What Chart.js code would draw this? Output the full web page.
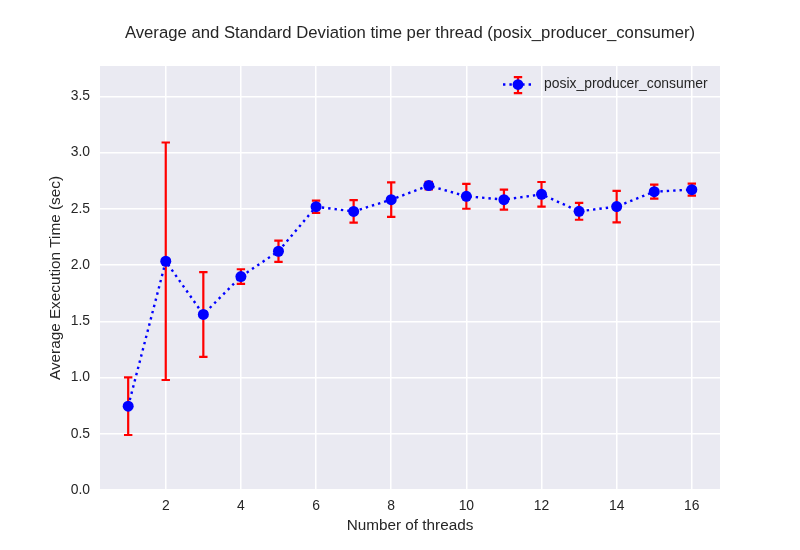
<!DOCTYPE html>
<html>
<head>
<meta charset="utf-8">
<script src="https://cdn.jsdelivr.net/npm/chart.js@4.4.0/dist/chart.umd.min.js"></script>
<style>
  body { margin: 0; background: #ffffff; }
  #wrap { width: 800px; height: 550px; }
</style>
</head>
<body>
<div id="wrap"><canvas id="myChart" width="800" height="550"></canvas></div>
<script>
// data
const threads = [1, 2, 3, 4, 5, 6, 7, 8, 9, 10, 11, 12, 13, 14, 15, 16];
const avgTime = [0.745, 2.034, 1.561, 1.898, 2.123, 2.519, 2.477, 2.582, 2.707, 2.612, 2.582, 2.629, 2.478, 2.520, 2.653, 2.671];
const stdTime = [0.256, 1.056, 0.377, 0.065, 0.095, 0.055, 0.100, 0.154, 0.033, 0.111, 0.089, 0.110, 0.075, 0.140, 0.062, 0.053];
const xTicks = [2, 4, 6, 8, 10, 12, 14, 16];
const yTicks = [0, 0.5, 1.0, 1.5, 2.0, 2.5, 3.0, 3.5];
const seriesName = "posix_producer_consumer";

const textColor = "#262626";
const fontFamily = "'Liberation Sans', Arial, sans-serif";
const lineDash = [2.4, 4.0];

// background of the plot area (seaborn darkgrid)
const plotBackground = {
    id: "plotBackground",
    beforeDraw(chart) {
        const { ctx, chartArea } = chart;
        ctx.save();
        ctx.fillStyle = "#EAEAF2";
        ctx.fillRect(chartArea.left, chartArea.top, chartArea.right - chartArea.left, chartArea.bottom - chartArea.top);
        ctx.restore();
    }
};

function drawErrorBar(ctx, x, yTop, yBot, cap) {
    ctx.beginPath();
    ctx.moveTo(x, yTop);
    ctx.lineTo(x, yBot);
    ctx.moveTo(x - cap, yTop);
    ctx.lineTo(x + cap, yTop);
    ctx.moveTo(x - cap, yBot);
    ctx.lineTo(x + cap, yBot);
    ctx.stroke();
}

// red error bars, drawn under the markers
const errorBars = {
    id: "errorBars",
    beforeDatasetsDraw(chart) {
        const { ctx, scales } = chart;
        ctx.save();
        ctx.strokeStyle = "#ff0000";
        ctx.lineWidth = 2.2;
        threads.forEach((t, i) => {
            const x = scales.x.getPixelForValue(t);
            const yTop = scales.y.getPixelForValue(avgTime[i] + stdTime[i]);
            const yBot = scales.y.getPixelForValue(avgTime[i] - stdTime[i]);
            drawErrorBar(ctx, x, yTop, yBot, 4.2);
        });
        ctx.restore();
    }
};

// legend in the upper right corner of the plot, matplotlib style
const cornerLegend = {
    id: "cornerLegend",
    afterDraw(chart) {
        const { ctx, chartArea } = chart;
        const cx = chartArea.right - 202;
        const cy = chartArea.top + 18.5;
        ctx.save();
        ctx.strokeStyle = "#0000ff";
        ctx.lineWidth = 2.4;
        ctx.setLineDash(lineDash);
        ctx.beginPath();
        ctx.moveTo(cx - 15, cy);
        ctx.lineTo(cx + 15, cy);
        ctx.stroke();
        ctx.setLineDash([]);
        ctx.strokeStyle = "#ff0000";
        ctx.lineWidth = 2.2;
        drawErrorBar(ctx, cx, cy - 7.5, cy + 8.5, 4.2);
        ctx.fillStyle = "#0000ff";
        ctx.beginPath();
        ctx.arc(cx, cy, 5.4, 0, Math.PI * 2);
        ctx.fill();
        ctx.fillStyle = textColor;
        ctx.font = "13.9px " + fontFamily;
        ctx.textBaseline = "middle";
        ctx.textAlign = "left";
        ctx.fillText(seriesName, cx + 26, cy);
        ctx.restore();
    }
};

const ctx = document.getElementById("myChart").getContext("2d");
const myChart = new Chart(ctx, {
    type: "line",
    data: {
        datasets: [{
            label: seriesName,
            data: threads.map((t, i) => ({ x: t, y: avgTime[i] })),
            borderColor: "#0000ff",
            backgroundColor: "#0000ff",
            borderWidth: 2.4,
            borderDash: lineDash,
            pointRadius: 5.5,
            pointBorderWidth: 0,
            pointBackgroundColor: "#0000ff",
            tension: 0
        }]
    },
    options: {
        responsive: false,
        animation: false,
        layout: { padding: { left: 20, right: 0, top: 0, bottom: 0 } },
        plugins: {
            title: {
                display: true,
                text: "Average and Standard Deviation time per thread (posix_producer_consumer)",
                color: textColor,
                font: { family: fontFamily, size: 16.7, weight: "normal" },
                padding: { top: 23, bottom: 23 }
            },
            legend: { display: false },
            tooltip: { enabled: false }
        },
        scales: {
            x: {
                type: "linear",
                min: 0.25,
                max: 16.75,
                afterBuildTicks(scale) { scale.ticks = xTicks.map(v => ({ value: v })); },
                afterFit(scale) { scale.height = 60; },
                border: { display: false },
                grid: { color: "#ffffff", lineWidth: 1.5, drawTicks: false },
                ticks: {
                    color: textColor,
                    font: { family: fontFamily, size: 13.9 },
                    padding: 8,
                    maxRotation: 0
                },
                title: {
                    display: true,
                    text: "Number of threads",
                    color: textColor,
                    font: { family: fontFamily, size: 15.3 },
                    padding: { top: 4, bottom: 15 }
                }
            },
            y: {
                type: "linear",
                min: 0,
                max: 3.77,
                afterBuildTicks(scale) { scale.ticks = yTicks.map(v => ({ value: v })); },
                afterFit(scale) { scale.width = 80; },
                border: { display: false },
                grid: { color: "#ffffff", lineWidth: 1.5, drawTicks: false },
                ticks: {
                    color: textColor,
                    font: { family: fontFamily, size: 13.9 },
                    padding: 10,
                    callback: v => v.toFixed(1)
                },
                title: {
                    display: true,
                    text: "Average Execution Time (sec)",
                    color: textColor,
                    font: { family: fontFamily, size: 15.3 },
                    padding: { top: 27, bottom: 4 }
                }
            },
            // empty axis only reserving the right margin
            yRight: {
                type: "linear",
                position: "right",
                min: 0,
                max: 3.77,
                afterFit(scale) { scale.width = 80; },
                border: { display: false },
                grid: { display: false },
                ticks: { display: false },
                title: { display: false }
            }
        }
    },
    plugins: [plotBackground, errorBars, cornerLegend]
});
</script>
</body>
</html>
